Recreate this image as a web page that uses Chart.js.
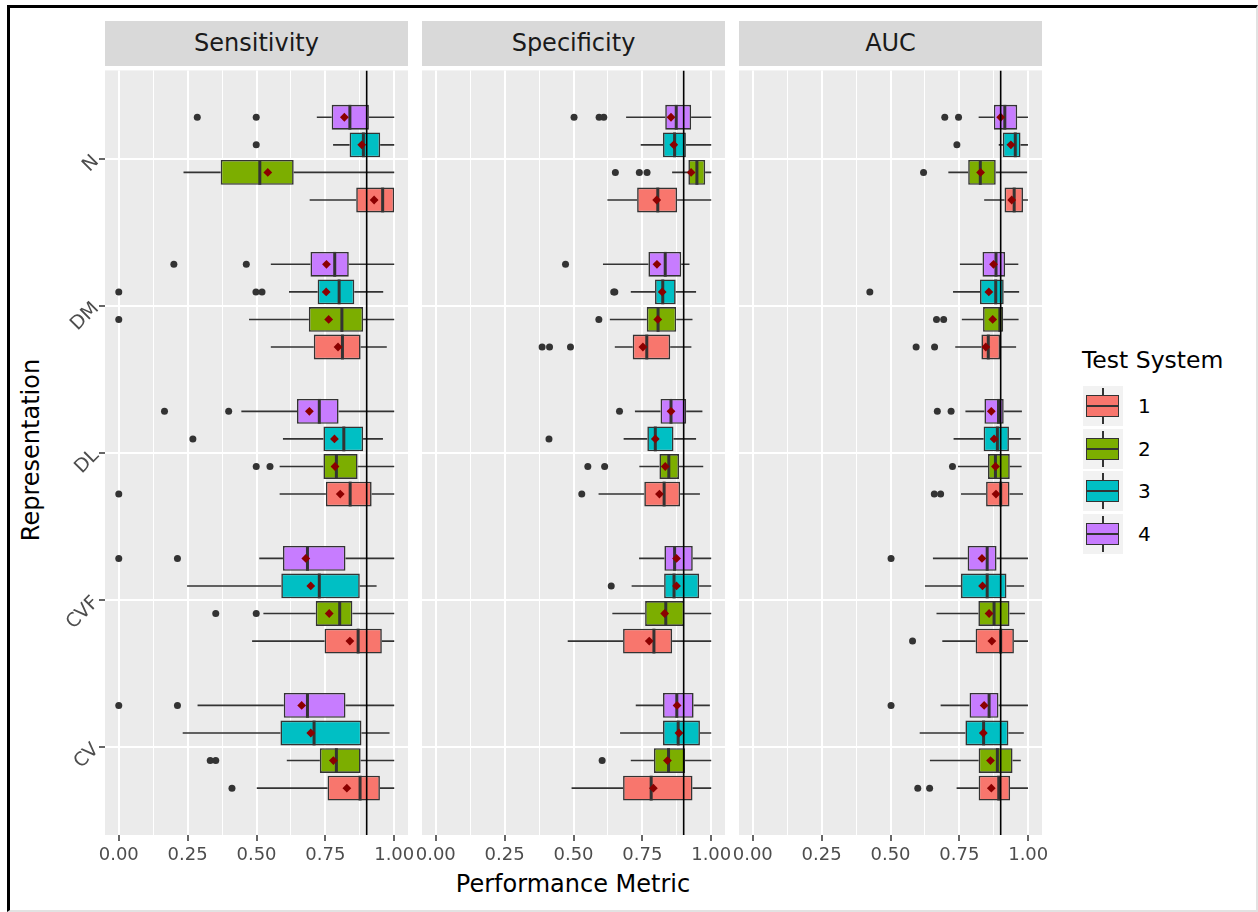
<!DOCTYPE html>
<html>
<head>
<meta charset="utf-8">
<title>Performance Metric by Representation</title>
<script src="https://cdn.jsdelivr.net/npm/chart.js@4.4.0/dist/chart.umd.min.js"></script>
<style>
  body { margin: 0; background: #ffffff; font-family: "DejaVu Sans", sans-serif; }
  #frame { position: absolute; left: 7px; top: 5px; width: 1251px; height: 907px; box-sizing: border-box;
           border-left: 3px solid #000; border-top: 3px solid #000; border-right: 2px solid #e2e2e2; border-bottom: 2px solid #e2e2e2; }
  canvas { position: absolute; }
  .strip { position: absolute; top: 21px; height: 45px; width: 303px; background: #D9D9D9; color: #1A1A1A;
           font-size: 24px; line-height: 45px; text-align: center; }
  .axis-title { position: absolute; color: #000; font-size: 24px; white-space: nowrap; }
  .key { position: absolute; left: 1083px; width: 40px; height: 40px; background: #F2F2F2; }
  .key .whisker { position: absolute; left: 19.3px; top: 2px; width: 1.5px; height: 36px; background: #333; }
  .key .box { position: absolute; left: 3px; top: 9px; width: 33px; height: 22px; box-sizing: border-box; border: 1.5px solid #333; }
  .key .med { position: absolute; left: 0; top: 9px; width: 100%; height: 2px; background: #333; }
  .key-label { position: absolute; left: 1138px; font-size: 20px; color: #000; line-height: 40px; }
</style>
</head>
<body>
<div id="frame"></div>
<div class="axis-title" style="left:0; width:1146px; top:870px; text-align:center;">Performance Metric</div>
<div class="axis-title" style="left:31px; top:450px; transform: translate(-50%, -50%) rotate(-90deg);">Representation</div>
<div class="axis-title" style="left:1082px; top:346px; font-size:23.5px;">Test System</div>

<canvas id="c0" width="412" height="803" style="left:8px; top:66px;"></canvas>
<canvas id="c1" width="327" height="803" style="left:410px; top:66px;"></canvas>
<canvas id="c2" width="327" height="803" style="left:727px; top:66px;"></canvas>

<script>
const representations = ["CV", "CVF", "DL", "DM", "N"];
const systems = ["1", "2", "3", "4"];
const metrics = ["Sensitivity", "Specificity", "AUC"];
const systemColors = ["#F8766D", "#7CAE00", "#00BFC4", "#C77CFF"];
const xTicks = [0, 0.25, 0.5, 0.75, 1];
const xTickLabels = ["0.00", "0.25", "0.50", "0.75", "1.00"];
const xMinorTicks = [0.125, 0.375, 0.625, 0.875];
const refLine = 0.9;

// every array: CV(1,2,3,4), CVF(1..4), DL(1..4), DM(1..4), N(1..4)
const sensLow = [
  0.501, 0.61, 0.232, 0.286,
  0.484, 0.525, 0.248, 0.51,
  0.584, 0.584, 0.596, 0.445,
  0.552, 0.473, 0.618, 0.552,
  0.693, 0.235, 0.778, 0.719
];
const sensQ1 = [
  0.758, 0.73, 0.587, 0.599,
  0.747, 0.715, 0.59, 0.596,
  0.752, 0.743, 0.743, 0.647,
  0.708, 0.69, 0.722, 0.696,
  0.862, 0.37, 0.838, 0.773
];
const sensMed = [
  0.876, 0.79, 0.709, 0.685,
  0.869, 0.802, 0.728, 0.685,
  0.84, 0.79, 0.817, 0.728,
  0.812, 0.81, 0.8, 0.784,
  0.958, 0.512, 0.888, 0.839
];
const sensQ3 = [
  0.948, 0.878, 0.881, 0.823,
  0.955, 0.848, 0.875, 0.823,
  0.918, 0.867, 0.887, 0.798,
  0.878, 0.887, 0.855, 0.835,
  1.0, 0.635, 0.949, 0.908
];
const sensHigh = [
  1, 1, 0.983, 1,
  1, 1, 0.936, 1,
  1, 1, 0.959, 1,
  0.973, 1, 0.96, 1,
  1, 1, 1, 1
];
const sensMean = [
  0.828, 0.779, 0.697, 0.664,
  0.839, 0.764, 0.697, 0.679,
  0.804, 0.785, 0.783, 0.692,
  0.796, 0.762, 0.753, 0.754,
  0.927, 0.541, 0.882, 0.819
];
const sensOut = [
  [0.411], [0.332, 0.352], [], [0, 0.213],
  [], [0.352, 0.499], [], [0, 0.213],
  [0], [0.499, 0.549], [0.269], [0.166, 0.399],
  [], [0], [0, 0.498, 0.52], [0.2, 0.463],
  [], [], [0.499], [0.285, 0.499]
];

const specLow = [
  0.493, 0.708, 0.669, 0.726,
  0.479, 0.641, 0.711, 0.738,
  0.591, 0.739, 0.682, 0.723,
  0.65, 0.632, 0.708, 0.607,
  0.623, 0.858, 0.744, 0.691
];
const specQ1 = [
  0.68, 0.792, 0.825, 0.825,
  0.68, 0.76, 0.829, 0.83,
  0.757, 0.812, 0.768, 0.816,
  0.715, 0.766, 0.796, 0.772,
  0.731, 0.917, 0.825, 0.833
];
const specMed = [
  0.782, 0.845, 0.88, 0.875,
  0.792, 0.835, 0.865, 0.867,
  0.829, 0.846, 0.797, 0.854,
  0.766, 0.807, 0.824, 0.833,
  0.806, 0.948, 0.867, 0.873
];
const specQ3 = [
  0.932, 0.905, 0.959, 0.936,
  0.858, 0.902, 0.956, 0.933,
  0.887, 0.883, 0.863, 0.909,
  0.851, 0.873, 0.871, 0.891,
  0.876, 0.978, 0.908, 0.927
];
const specHigh = [
  1, 1, 1, 0.995,
  1, 1, 1, 1,
  0.959, 0.971, 0.945, 0.968,
  0.928, 0.932, 0.945, 0.921,
  1, 1, 1, 1
];
const specMean = [
  0.79, 0.841, 0.883, 0.876,
  0.775, 0.831, 0.874, 0.874,
  0.812, 0.833, 0.797, 0.854,
  0.752, 0.806, 0.822, 0.803,
  0.802, 0.927, 0.864, 0.854
];
const specOut = [
  [], [0.604], [], [],
  [], [], [0.637], [],
  [0.53], [0.552, 0.613], [0.411], [0.667],
  [0.386, 0.413, 0.489], [0.592], [0.646, 0.65], [0.471],
  [], [0.652, 0.739, 0.767], [], [0.502, 0.593, 0.61]
];

const aucLow = [
  0.74, 0.643, 0.606, 0.682,
  0.688, 0.667, 0.625, 0.654,
  0.756, 0.745, 0.729, 0.772,
  0.735, 0.759, 0.727, 0.752,
  0.84, 0.71, 0.893, 0.82
];
const aucQ1 = [
  0.82, 0.82, 0.772, 0.787,
  0.809, 0.819, 0.756, 0.78,
  0.847, 0.854, 0.838, 0.841,
  0.83, 0.836, 0.825, 0.834,
  0.914, 0.782, 0.908, 0.875
];
const aucMed = [
  0.893, 0.888, 0.838, 0.858,
  0.9, 0.876, 0.851, 0.851,
  0.9, 0.881, 0.888, 0.892,
  0.855, 0.897, 0.882, 0.883,
  0.949, 0.826, 0.953, 0.915
];
const aucQ3 = [
  0.934, 0.943, 0.928, 0.892,
  0.948, 0.932, 0.921, 0.885,
  0.932, 0.933, 0.93, 0.911,
  0.898, 0.909, 0.911, 0.916,
  0.981, 0.882, 0.972, 0.96
];
const aucHigh = [
  0.999, 0.973, 0.984, 0.999,
  0.999, 0.988, 0.985, 0.999,
  0.981, 0.976, 0.973, 0.977,
  0.956, 0.965, 0.967, 0.964,
  0.999, 0.996, 0.999, 0.999
];
const aucMean = [
  0.866, 0.863, 0.837, 0.84,
  0.868, 0.858, 0.834, 0.832,
  0.883, 0.881, 0.876, 0.866,
  0.846, 0.871, 0.857, 0.874,
  0.94, 0.827, 0.937, 0.9
];
const aucOut = [
  [0.599, 0.642], [], [], [0.502],
  [0.58], [], [], [0.502],
  [0.659, 0.682], [0.725], [], [0.67, 0.72],
  [0.593, 0.66], [0.667, 0.693], [0.425], [],
  [], [0.62], [0.741], [0.697, 0.747]
];

const panelStats = [
  { lo: sensLow, q1: sensQ1, med: sensMed, q3: sensQ3, hi: sensHigh, mean: sensMean, out: sensOut },
  { lo: specLow, q1: specQ1, med: specMed, q3: specQ3, hi: specHigh, mean: specMean, out: specOut },
  { lo: aucLow, q1: aucQ1, med: aucMed, q3: aucQ3, hi: aucHigh, mean: aucMean, out: aucOut }
];

const panelLeft = [105, 422, 739];
const yMin = 0.4, yMax = 5.6;     // ggplot discrete expansion
const dodgeStep = 0.1875;         // 0.75 / 4 boxes

// strip headers
metrics.forEach((m, k) => {
  const d = document.createElement("div");
  d.className = "strip";
  d.style.left = panelLeft[k] + "px";
  d.textContent = m;
  document.body.appendChild(d);
});

// legend
systems.forEach((s, k) => {
  const top = 386 + k * 42.7;
  const key = document.createElement("div");
  key.className = "key";
  key.style.top = top + "px";
  key.innerHTML = '<div class="whisker"></div><div class="box" style="background:' + systemColors[k] + '"><div class="med"></div></div>';
  document.body.appendChild(key);
  const lab = document.createElement("div");
  lab.className = "key-label";
  lab.style.top = top + "px";
  lab.textContent = s;
  document.body.appendChild(lab);
});

const pos = (r, s) => r + 1 + (s - 1.5) * dodgeStep;
const isMajor = v => xTicks.indexOf(v) >= 0;

// panel background, whiskers and medians
const boxExtras = {
  id: "boxExtras",
  beforeDraw(chart) {
    const a = chart.chartArea;
    chart.ctx.save();
    chart.ctx.fillStyle = "#EBEBEB";
    chart.ctx.fillRect(a.left, a.top, a.right - a.left, a.bottom - a.top);
    chart.ctx.restore();
  },
  afterDatasetDraw(chart, args) {
    const ds = chart.data.datasets[args.index];
    if (!ds.median) return;
    const xs = chart.scales.x;
    const ctx = chart.ctx;
    ctx.save();
    ctx.strokeStyle = "#333333";
    args.meta.data.forEach((bar, j) => {
      const y = bar.y, h = bar.height;
      ctx.lineWidth = 1.6;
      ctx.beginPath();
      ctx.moveTo(xs.getPixelForValue(ds.whiskerLow[j]), y);
      ctx.lineTo(xs.getPixelForValue(ds.data[j].x[0]), y);
      ctx.moveTo(xs.getPixelForValue(ds.data[j].x[1]), y);
      ctx.lineTo(xs.getPixelForValue(ds.whiskerHigh[j]), y);
      ctx.stroke();
      const mx = xs.getPixelForValue(ds.median[j]);
      ctx.lineWidth = 3;
      ctx.beginPath();
      ctx.moveTo(mx, y - h / 2);
      ctx.lineTo(mx, y + h / 2);
      ctx.stroke();
    });
    ctx.restore();
  }
};

function makePanel(k) {
  const st = panelStats[k];
  const first = k === 0;
  const datasets = [];

  systems.forEach((sys, s) => {
    const rows = representations.map((_, r) => r * 4 + s);
    datasets.push({
      type: "bar",
      label: "Test System " + sys,
      indexAxis: "y",
      grouped: false,
      order: 2,
      data: rows.map((i, r) => ({ x: [st.q1[i], st.q3[i]], y: pos(r, s) })),
      backgroundColor: systemColors[s],
      borderColor: "#333333",
      borderWidth: 1.6,
      borderSkipped: false,
      barPercentage: 0.9,
      categoryPercentage: 1,
      whiskerLow: rows.map(i => st.lo[i]),
      whiskerHigh: rows.map(i => st.hi[i]),
      median: rows.map(i => st.med[i])
    });
  });

  const outPts = [], meanPts = [];
  representations.forEach((_, r) => {
    systems.forEach((_, s) => {
      const i = r * 4 + s;
      st.out[i].forEach(v => outPts.push({ x: v, y: pos(r, s) }));
      meanPts.push({ x: st.mean[i], y: pos(r, s) });
    });
  });

  datasets.push({
    type: "scatter", label: "outliers", order: 1, data: outPts,
    pointRadius: 3.5, pointBackgroundColor: "#333333", pointBorderWidth: 0
  });
  datasets.push({
    type: "scatter", label: "mean", order: 1, data: meanPts,
    pointStyle: "rectRot", pointRadius: 4.4, pointBackgroundColor: "#8B0000", pointBorderWidth: 0
  });
  datasets.push({
    type: "scatter", label: "reference", order: 0, showLine: true,
    data: [{ x: refLine, y: yMin }, { x: refLine, y: yMax }],
    pointRadius: 0, borderColor: "#000000", borderWidth: 1.6
  });

  new Chart(document.getElementById("c" + k), {
    type: "bar",
    data: { datasets },
    plugins: [boxExtras],
    options: {
      responsive: false,
      animation: false,
      events: [],
      indexAxis: "y",
      layout: { padding: { left: first ? 0 : 12, right: 12, top: 0, bottom: 0 } },
      plugins: { legend: { display: false }, tooltip: { enabled: false } },
      scales: {
        x: {
          type: "linear", min: -0.05, max: 1.05, offset: false,
          afterBuildTicks: sc => { sc.ticks = xTicks.concat(xMinorTicks).sort((a, b) => a - b).map(v => ({ value: v })); },
          afterFit: sc => { sc.height = 34; sc.paddingLeft = 0; sc.paddingRight = 0; },
          border: { display: false },
          grid: {
            offset: false,
            color: "#FFFFFF",
            lineWidth: c => (c.tick && isMajor(c.tick.value)) ? 2 : 1,
            tickColor: c => (c.tick && isMajor(c.tick.value)) ? "#333333" : "rgba(0,0,0,0)",
            tickLength: 6, tickWidth: 1.5
          },
          ticks: {
            autoSkip: false, minRotation: 0, maxRotation: 0, padding: 4,
            color: "#4D4D4D", font: { family: "DejaVu Sans", size: 18 },
            callback: v => { const j = xTicks.indexOf(v); return j >= 0 ? xTickLabels[j] : ""; }
          }
        },
        y: {
          type: "linear", min: yMin, max: yMax, offset: false,
          afterBuildTicks: sc => { sc.ticks = representations.map((_, r) => ({ value: r + 1 })); },
          afterFit: sc => { sc.width = first ? 97 : 0; sc.paddingTop = 0; sc.paddingBottom = 0; },
          border: { display: false },
          grid: { offset: false, color: "#FFFFFF", lineWidth: 2, drawTicks: first, tickColor: "#333333", tickLength: 6, tickWidth: 1.5 },
          ticks: {
            display: first, minRotation: 45, maxRotation: 45, padding: 3,
            color: "#4D4D4D", font: { family: "DejaVu Sans", size: 19 },
            callback: v => representations[Math.round(v) - 1]
          }
        }
      }
    }
  });
}

metrics.forEach((_, k) => makePanel(k));
</script>
</body>
</html>
